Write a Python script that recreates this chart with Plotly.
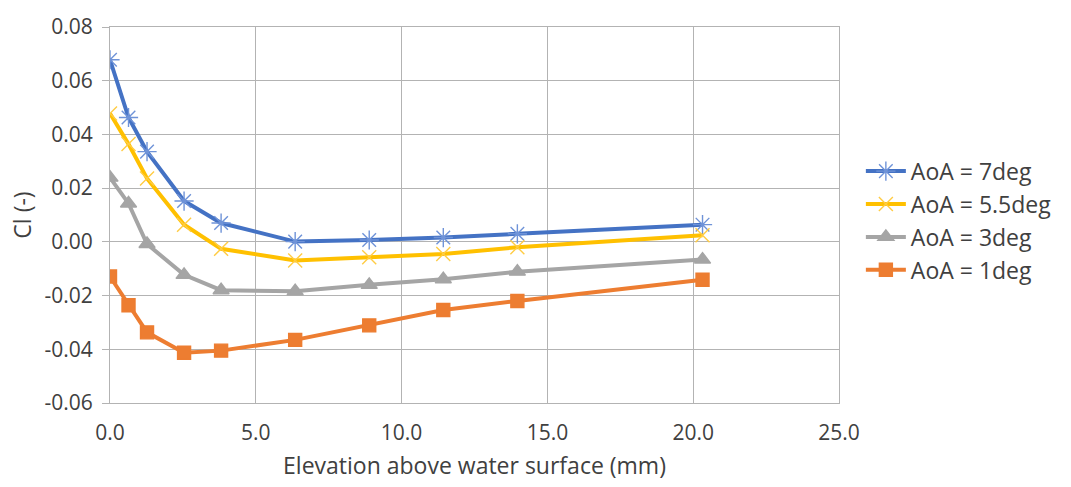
import plotly.graph_objects as go

# Elevation above the water surface (mm)
elevation = [0.0, 0.635, 1.27, 2.54, 3.81, 6.35, 8.89, 11.43, 13.97, 20.32]

# Lift coefficient for each angle of attack
cl_7deg = [0.0678, 0.0463, 0.0336, 0.0152, 0.0070, 0.0001, 0.0007, 0.0016, 0.0030, 0.0064]
cl_5_5deg = [0.0478, 0.0364, 0.0236, 0.0064, -0.0026, -0.0069, -0.0057, -0.0045, -0.0020, 0.0025]
cl_3deg = [0.0239, 0.0143, -0.0008, -0.0123, -0.0180, -0.0184, -0.0160, -0.0139, -0.0111, -0.0066]
cl_1deg = [-0.0129, -0.0236, -0.0337, -0.0413, -0.0405, -0.0365, -0.0311, -0.0254, -0.0220, -0.0141]

series_names = ["AoA = 7deg", "AoA = 5.5deg", "AoA = 3deg", "AoA = 1deg"]

# Axis tick values and their labels (plain hyphen for negatives)
y_ticks = [-0.06, -0.04, -0.02, 0.0, 0.02, 0.04, 0.06, 0.08]
y_labels = ["-0.06", "-0.04", "-0.02", "0.00", "0.02", "0.04", "0.06", "0.08"]
x_ticks = [0, 5, 10, 15, 20, 25]
x_labels = ["0.0", "5.0", "10.0", "15.0", "20.0", "25.0"]

FONT = "Open Sans"
TEXT = "#404040"
GRID = "#b3b3b3"

styles = [
    dict(color="#4472C4", symbol="asterisk-open", size=16, mcolor="#6F93D8"),
    dict(color="#FFC000", symbol="x-thin-open", size=14, mcolor="#FFCC44"),
    dict(color="#A5A5A5", symbol="triangle-up", size=14, mcolor="#A5A5A5"),
    dict(color="#ED7D31", symbol="square", size=13, mcolor="#ED7D31"),
]

fig = go.Figure()
for name, values, st in zip(series_names, [cl_7deg, cl_5_5deg, cl_3deg, cl_1deg], styles):
    fig.add_trace(go.Scatter(
        x=elevation, y=values, name=name, mode="lines+markers",
        line=dict(color=st["color"], width=4),
        marker=dict(symbol=st["symbol"], size=st["size"], color=st["mcolor"],
                    line=dict(color=st["mcolor"], width=1.4)),
    ))

fig.update_layout(
    width=1071, height=487,
    margin=dict(l=110, r=232, t=17, b=84),
    paper_bgcolor="white", plot_bgcolor="white",
    font=dict(family=FONT, size=21, color=TEXT),
    showlegend=True,
    legend=dict(x=1.03, xanchor="left", y=0.485, yanchor="middle",
                font=dict(family=FONT, size=23, color=TEXT),
                tracegroupgap=0, itemwidth=40, bgcolor="rgba(0,0,0,0)"),
)

fig.update_xaxes(
    range=[0, 25], tickvals=x_ticks, ticktext=x_labels,
    showgrid=True, gridcolor=GRID, gridwidth=1,
    showline=True, linecolor=GRID, linewidth=1, mirror=True,
    zeroline=False, ticks="", ticklabelstandoff=11,
    title=dict(text="Elevation above water surface (mm)", standoff=12,
               font=dict(family=FONT, size=23, color=TEXT)),
)
fig.update_yaxes(
    range=[-0.06, 0.08], tickvals=y_ticks, ticktext=y_labels,
    showgrid=True, gridcolor=GRID, gridwidth=1,
    showline=True, linecolor=GRID, linewidth=1, mirror=True,
    zeroline=False, ticks="outside", ticklen=7, tickcolor=GRID,
    ticklabelstandoff=5,
    title=dict(text="Cl (-)", standoff=6,
               font=dict(family=FONT, size=23, color=TEXT)),
)

fig.write_html("out.html")
